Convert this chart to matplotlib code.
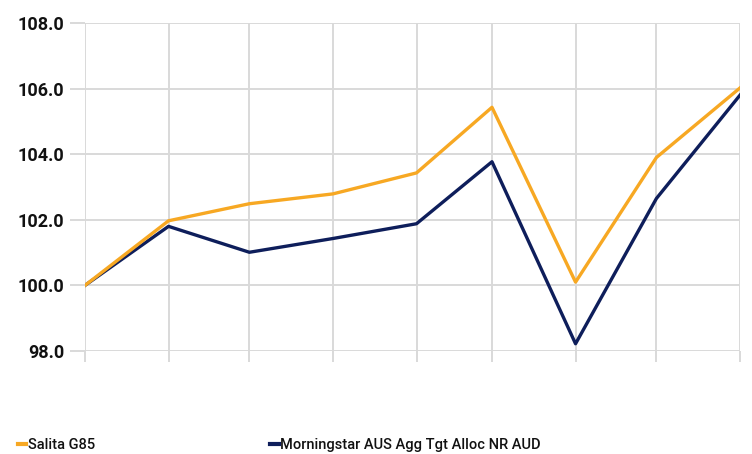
import datetime

import numpy as np
import matplotlib.pyplot as plt
import matplotlib.dates as mdates

# month-end observation dates (no labels shown on the chart)
dates = [datetime.date(2024, 9, 30), datetime.date(2024, 10, 31), datetime.date(2024, 11, 30),
         datetime.date(2024, 12, 31), datetime.date(2025, 1, 31), datetime.date(2025, 2, 28),
         datetime.date(2025, 3, 31), datetime.date(2025, 4, 30), datetime.date(2025, 5, 31)]

salita = [100.0, 101.97, 102.49, 102.79, 103.43, 105.43, 100.10, 103.90, 106.02]
morningstar = [100.0, 101.80, 101.01, 101.43, 101.88, 103.77, 98.22, 102.65, 105.80]

series_labels = ["Salita G85", "Morningstar AUS Agg Tgt Alloc NR AUD"]
y_ticks = [98.0, 100.0, 102.0, 104.0, 106.0, 108.0]

orange = "#F7A823"
navy = "#0E1E5B"
grid = "#D9D9D9"

fig = plt.figure(figsize=(7.52, 4.54), dpi=100)
ax = fig.add_axes([0.113, 0.2269, 0.871, 0.7224])

x = mdates.date2num(dates)
l1, = ax.plot(x, salita, color=orange, lw=2.4, zorder=3)
l2, = ax.plot(x, morningstar, color=navy, lw=2.4, zorder=2)

ax.set_xlim(x[0], x[-1])
ax.set_ylim(98, 108)
ax.set_xticks(x)
ax.set_xticklabels([])
ax.set_yticks(y_ticks)
ax.set_yticklabels([f"{v:.1f}" for v in y_ticks], fontsize=13, color="#111111",
                   family="Roboto", weight="bold")

ax.grid(True, color=grid, lw=1.4, zorder=0)
ax.tick_params(axis="y", length=11, width=1.4, color=grid, pad=4)
ax.tick_params(axis="x", length=8, width=1.4, color=grid)
for s in ax.spines.values():
    s.set_visible(False)

leg = fig.legend([l1, l2], series_labels, loc="lower left", bbox_to_anchor=(0.006, -0.025),
                 ncol=2, frameon=False, handlelength=0.6, handletextpad=0.1,
                 columnspacing=12.0, prop={"family": "Roboto", "weight": "medium", "size": 10.5})
for h in leg.legend_handles:
    h.set_linewidth(3)
for t in leg.get_texts():
    t.set_color("#111111")

fig.savefig("out.png", dpi=100)
